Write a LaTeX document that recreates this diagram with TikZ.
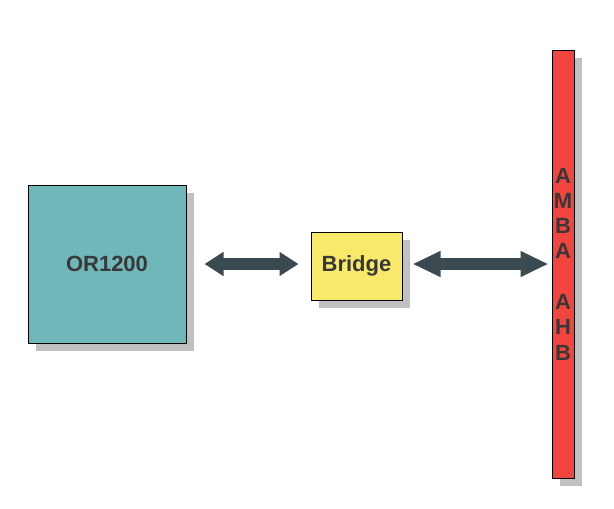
\documentclass[tikz,border=0pt]{standalone}
\usepackage{fontspec}
\setmainfont{Liberation Sans}
\usetikzlibrary{arrows.meta,shadows}
\definecolor{cputeal}{HTML}{70B7BA}
\definecolor{bridgeyellow}{HTML}{F8E96A}
\definecolor{busred}{HTML}{F34540}
\definecolor{labelgray}{HTML}{383838}
\definecolor{linkslate}{HTML}{3A4A50}
\definecolor{shadowgray}{HTML}{C0C0C0}
\begin{document}
\begin{tikzpicture}[x=1pt,y=-1pt,
  block/.style={draw=black,line width=1pt,inner sep=0pt,text=labelgray,
    font=\bfseries\fontsize{22}{25.3}\selectfont,
    drop shadow={shadow xshift=8pt,shadow yshift=-8pt,fill=shadowgray,opacity=1}},
  link/.style={draw=linkslate,line width=11.5pt}]
\useasboundingbox (0,0) rectangle (614,509);
\node (or) [block,fill=cputeal,minimum width=158pt,minimum height=158pt] at (107,264) {OR1200};
\node (br) [block,fill=bridgeyellow,minimum width=91pt,minimum height=68pt] at (356.5,266) {Bridge};
\node (bus) [block,fill=busred,minimum width=22pt,minimum height=428pt,align=center] at (563,264)
  {A\\M\\B\\A\\~\\A\\H\\B};
% links
\draw [link,{Triangle[length=19pt,width=23pt]}-{Triangle[length=19pt,width=23pt]}]
  ([xshift=18pt]or.east) -- ([xshift=-12pt]br.west |- or.east);
\draw [link,{Triangle[length=28pt,width=24pt]}-{Triangle[length=28pt,width=24pt]}]
  ([xshift=10pt]br.east |- or.east) -- ([xshift=-3pt]bus.west |- or.east);
\end{tikzpicture}
\end{document}
